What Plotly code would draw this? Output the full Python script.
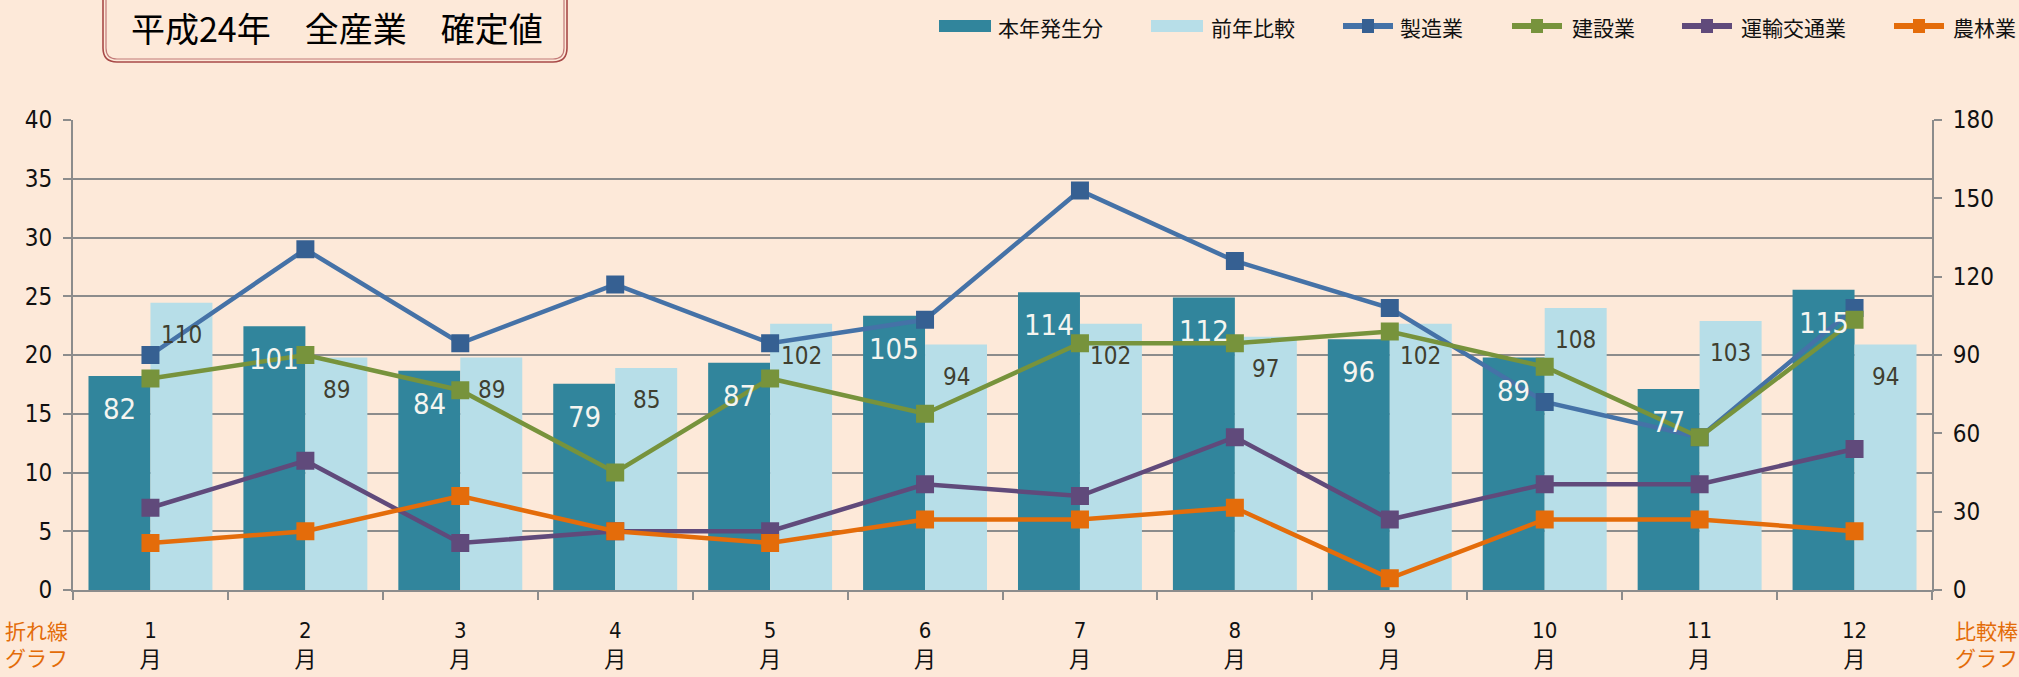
import plotly.graph_objects as go

# ---- data ----
months = ["1", "2", "3", "4", "5", "6", "7", "8", "9", "10", "11", "12"]
month_labels = [m + "<br>月" for m in months]
bar_current = [82, 101, 84, 79, 87, 105, 114, 112, 96, 89, 77, 115]      # 本年発生分
bar_prev = [110, 89, 89, 85, 102, 94, 102, 97, 102, 108, 103, 94]         # 前年比較
manufacturing = [20, 29, 21, 26, 21, 23, 34, 28, 24, 16, 13, 24]          # 製造業
construction = [18, 20, 17, 10, 18, 15, 21, 21, 22, 19, 13, 23]           # 建設業
transport = [7, 11, 4, 5, 5, 9, 8, 13, 6, 9, 9, 12]                       # 運輸交通業
agriculture = [4, 5, 8, 5, 4, 6, 6, 7, 1, 6, 6, 5]                        # 農林業
left_ticks = [0, 5, 10, 15, 20, 25, 30, 35, 40]
right_ticks = [0, 30, 60, 90, 120, 150, 180]

# ---- layout geometry (pixels) ----
W, H = 2019, 677
ML, MR, MT, MB = 73, 87, 120, 87
PW = W - ML - MR
PH = H - MT - MB

def px_x(px):
    return (px - ML) / PW

def px_y(py):
    return (H - MB - py) / PH

BG = "#FDE9D9"
GRID = "#8C8C8C"
FONT = "Liberation Sans Narrow, DejaVu Sans Condensed, Roboto, Noto Sans CJK JP, sans-serif"
JFONT = "Noto Sans CJK JP, sans-serif"

C_CUR = "#31859C"
C_PREV = "#B7DEE8"
line_specs = [
    ("製造業", manufacturing, "#4572A7", "#366092"),
    ("建設業", construction, "#77933C", "#77933C"),
    ("運輸交通業", transport, "#604A7B", "#604A7B"),
    ("農林業", agriculture, "#E46C0A", "#E46C0A"),
]

fig = go.Figure()
fig.add_trace(go.Bar(x=months, y=bar_current, name="本年発生分", yaxis="y",
                     marker=dict(color=C_CUR, line=dict(width=0))))
fig.add_trace(go.Bar(x=months, y=bar_prev, name="前年比較", yaxis="y",
                     marker=dict(color=C_PREV, line=dict(width=0))))
for name, vals, lc, mc in line_specs:
    fig.add_trace(go.Scatter(x=months, y=vals, name=name, yaxis="y2",
                             mode="lines+markers",
                             line=dict(color=lc, width=4.5),
                             marker=dict(symbol="square", size=18, color=mc)))

annotations = []
shapes = []
BW = PW / 12 * 0.8 / 2
for i, v in enumerate(bar_current):
    annotations.append(dict(x=i, y=v, xref="x", yref="y", text=str(v), showarrow=False,
                            xshift=-BW / 2, yshift=-14, yanchor="top", xanchor="center",
                            font=dict(family=FONT, size=29, color="#F5F5F0")))
for i, v in enumerate(bar_prev):
    annotations.append(dict(x=i, y=v, xref="x", yref="y", text=str(v), showarrow=False,
                            xshift=BW / 2, yshift=-16, yanchor="top", xanchor="center",
                            font=dict(family=FONT, size=24, color="#403F30")))

# title
annotations.append(dict(x=px_x(337), y=px_y(28), xref="paper", yref="paper",
                        text="平成24年　全産業　確定値", showarrow=False,
                        xanchor="center", yanchor="middle",
                        font=dict(family=JFONT, size=34, color="#000000")))
# corner notes
for txt, xc in [("折れ線<br>グラフ", 36), ("比較棒<br>グラフ", 1986)]:
    annotations.append(dict(x=px_x(xc), y=px_y(643), xref="paper", yref="paper",
                            text=txt, showarrow=False, xanchor="center", yanchor="middle",
                            align="center",
                            font=dict(family=JFONT, size=21, color="#E36C09")))

def rrect(x0, y0, x1, y1, r):
    X = px_x
    Y = px_y
    return (f"M {X(x0+r)},{Y(y0)} L {X(x1-r)},{Y(y0)} Q {X(x1)},{Y(y0)} {X(x1)},{Y(y0+r)} "
            f"L {X(x1)},{Y(y1-r)} Q {X(x1)},{Y(y1)} {X(x1-r)},{Y(y1)} "
            f"L {X(x0+r)},{Y(y1)} Q {X(x0)},{Y(y1)} {X(x0)},{Y(y1-r)} "
            f"L {X(x0)},{Y(y0+r)} Q {X(x0)},{Y(y0)} {X(x0+r)},{Y(y0)} Z")

shapes += [
    dict(type="path", xref="paper", yref="paper", path=rrect(103, -20, 567, 62, 14),
         line=dict(color="#A84A48", width=1.6), fillcolor=BG, layer="above"),
    dict(type="path", xref="paper", yref="paper", path=rrect(106, -20, 564, 59, 11),
         line=dict(color="#C27A78", width=1.2), fillcolor="rgba(0,0,0,0)", layer="above"),
]

# ---- legend (drawn in paper space) ----
LY = 26
leg_bar = [("本年発生分", C_CUR, 939, 996), ("前年比較", C_PREV, 1151, 1209)]
for name, col, x0, tx in leg_bar:
    shapes.append(dict(type="rect", xref="paper", yref="paper",
                       x0=px_x(x0), x1=px_x(x0 + 52), y0=px_y(LY - 6), y1=px_y(LY + 6),
                       line=dict(width=0), fillcolor=col))
    annotations.append(dict(x=px_x(tx), y=px_y(LY + 1), xref="paper", yref="paper", text=name,
                            showarrow=False, xanchor="left", yanchor="middle",
                            font=dict(family=JFONT, size=21, color="#111111")))
leg_line_x = [(1340, 1398), (1509, 1570), (1679, 1739), (1891, 1951)]
for (name, _, lc, mc), (x0, tx) in zip(line_specs, leg_line_x):
    shapes.append(dict(type="line", xref="paper", yref="paper",
                       x0=px_x(x0 + 3), x1=px_x(x0 + 53), y0=px_y(LY), y1=px_y(LY),
                       line=dict(color=lc, width=6)))
    shapes.append(dict(type="rect", xref="paper", yref="paper",
                       x0=px_x(x0 + 22), x1=px_x(x0 + 34), y0=px_y(LY - 7), y1=px_y(LY + 7),
                       line=dict(width=0), fillcolor=mc))
    annotations.append(dict(x=px_x(tx), y=px_y(LY + 1), xref="paper", yref="paper", text=name,
                            showarrow=False, xanchor="left", yanchor="middle",
                            font=dict(family=JFONT, size=21, color="#111111")))

fig.update_layout(
    width=W, height=H,
    margin=dict(l=ML, r=MR, t=MT, b=MB, autoexpand=False),
    paper_bgcolor=BG, plot_bgcolor=BG,
    barmode="group", bargap=0.2, bargroupgap=0,
    font=dict(family=FONT, color="#000000"),
    showlegend=False,
    xaxis=dict(type="category", tickvals=months, ticktext=month_labels,
               range=[-0.5, 11.5], automargin=False,
               tickson="boundaries", ticks="outside", ticklen=8, tickcolor=GRID, tickwidth=2,
               showline=True, linecolor=GRID, linewidth=2, showgrid=False,
               tickfont=dict(family=FONT, size=22, color="#111111"),
               ticklabelstandoff=20),
    yaxis=dict(range=[0, 180], tickvals=right_ticks, side="right", showgrid=False,
               automargin=False,
               ticks="outside", ticklen=8, tickcolor=GRID, tickwidth=2,
               showline=True, linecolor=GRID, linewidth=2, zeroline=False,
               tickfont=dict(family=FONT, size=24, color="#111111"), ticklabelstandoff=6),
    yaxis2=dict(range=[0, 40], tickvals=left_ticks, side="left", overlaying="y",
                automargin=False,
                showgrid=True, gridcolor=GRID, gridwidth=2,
                ticks="outside", ticklen=8, tickcolor=GRID, tickwidth=2,
                showline=True, linecolor=GRID, linewidth=2, zeroline=False,
                tickfont=dict(family=FONT, size=24, color="#111111"), ticklabelstandoff=6),
    annotations=annotations,
    shapes=shapes,
)

fig.write_html("out.html", config={"displayModeBar": False},
               post_script="document.body.style.margin='0px';document.body.style.overflow='hidden';")
